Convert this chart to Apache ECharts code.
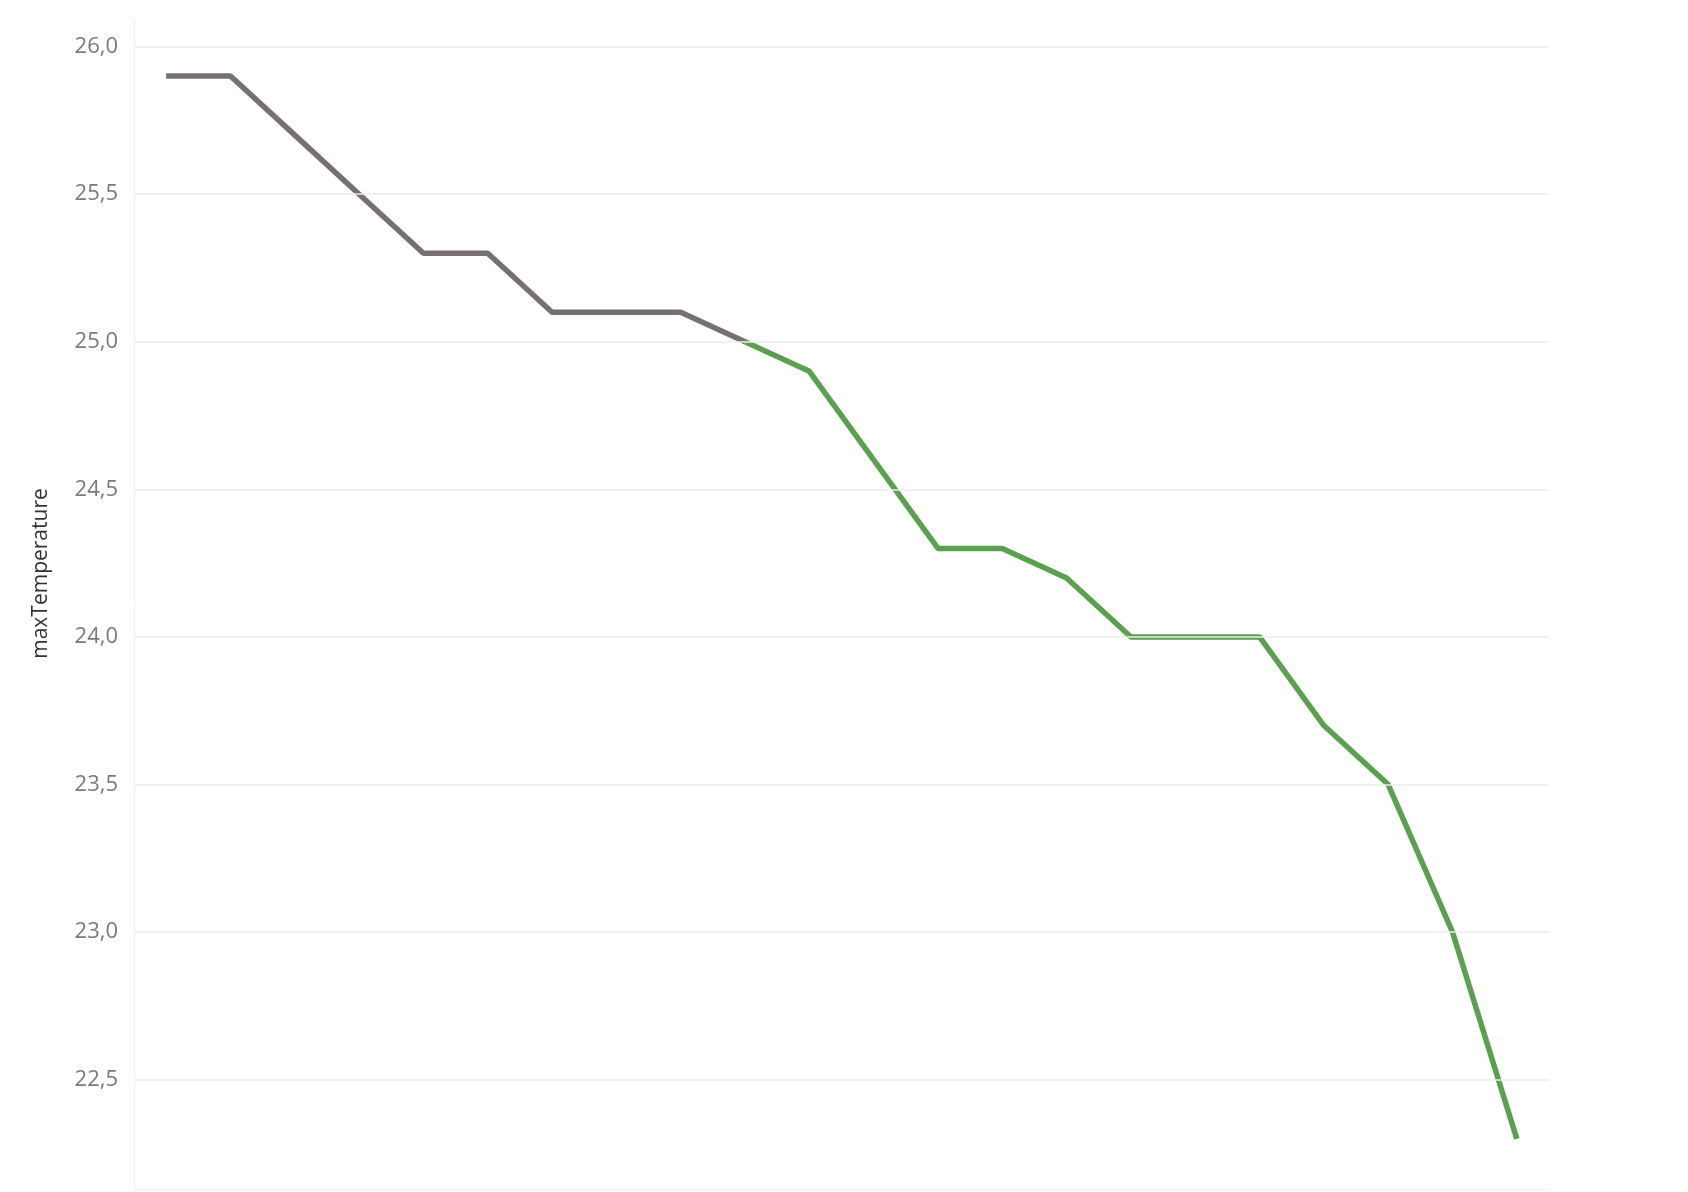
<!DOCTYPE html><html><head><meta charset="utf-8"><script src="https://cdn.jsdelivr.net/npm/echarts@6/dist/echarts.min.js"></script>
<style>html,body{margin:0;background:#fff}#c{width:1688px;height:1192px}</style></head><body><div id="c"></div><script>
const categories = Array.from({length:22},(_, i)=>String(i+1));
const values = [25.9,25.9,25.7,25.5,25.3,25.3,25.1,25.1,25.1,25.0,24.9,24.6,24.3,24.3,24.2,24.0,24.0,24.0,23.7,23.5,23.0,22.3];
const tickValues = [22.5,23.0,23.5,24.0,24.5,25.0,25.5,26.0];
const splitIdx = 9;
const grey = values.map((v,i)=> i<=splitIdx ? v : null);
const green = values.map((v,i)=> i>=splitIdx ? v : null);
const chart = echarts.init(document.getElementById('c'));
chart.setOption({
  animation:false,
  grid:{left:134,right:139,top:20,bottom:3},
  xAxis:{type:'category',data:categories,boundaryGap:true,axisLine:{show:true,lineStyle:{color:'#f0f0f0'}},axisTick:{show:false},axisLabel:{show:false}},
  yAxis:{type:'value',min:22.13,max:26.09,
    name:'maxTemperature',nameLocation:'middle',nameGap:82,nameRotate:90,
    nameTextStyle:{color:'#333',fontSize:21,fontFamily:'Open Sans',padding:[0,0,0,62]},
    axisLine:{show:true,lineStyle:{color:'#f0f0f0',width:1}},axisTick:{show:false},
    axisLabel:{show:false},splitLine:{show:false}},
  series:[
    {type:'line',data:grey,symbol:'none',lineStyle:{color:'#77706e',width:5.5},
     markLine:{silent:true,symbol:'none',animation:false,
       lineStyle:{color:'#ececec',width:1.5,type:'solid'},
       label:{position:'start',distance:16,color:'#7a7a7a',fontSize:22,fontFamily:'Open Sans',
         formatter:p=>p.value.toFixed(1).replace('.',',')},
       data:tickValues.map(v=>({yAxis:v}))},
     z:3},
    {type:'line',data:green,symbol:'none',lineStyle:{color:'#59a14f',width:5.5},z:3}
  ]
});
</script></body></html>
